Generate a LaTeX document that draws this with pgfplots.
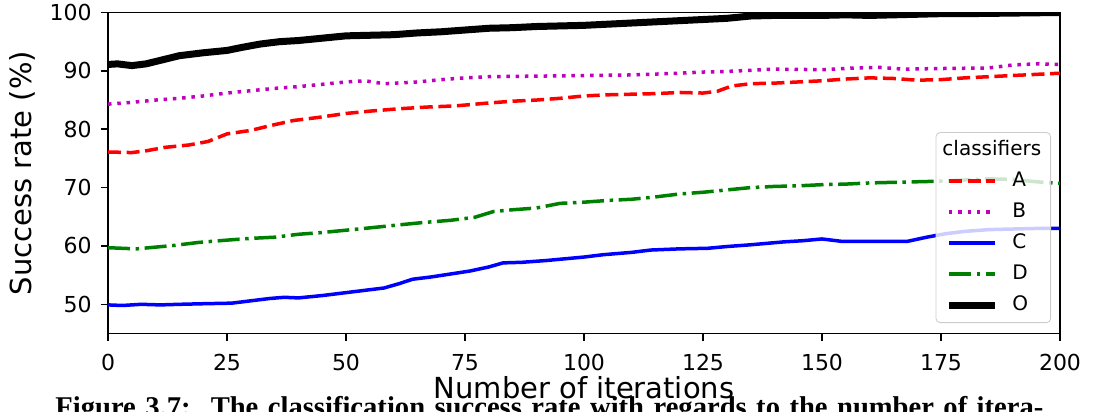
\documentclass[border=0pt]{standalone}
\usepackage{fontspec}
\setmainfont{DejaVu Sans}
\newfontfamily\capfont{Liberation Serif}
\usepackage{pgfplots}
\pgfplotsset{compat=1.18}
\usepackage{pgfplotstable}

\definecolor{mplmag}{rgb}{0.75,0,0.75}
\definecolor{mplgreen}{rgb}{0,0.5,0}

% success rate (%) per iteration
\pgfplotstableread{
it rate
0 76.1
5 76.0
8 76.3
12 76.9
17 77.3
21 77.9
25 79.2
30 79.8
34 80.6
39 81.5
44 82.0
50 82.7
55 83.1
61 83.5
67 83.8
73 84.0
80 84.5
85 84.8
90 85.0
95 85.3
100 85.7
105 85.9
110 86.0
115 86.1
120 86.3
125 86.2
128 86.5
131 87.4
135 87.8
140 87.9
145 88.1
150 88.3
155 88.6
160 88.8
165 88.7
170 88.4
175 88.5
180 88.8
185 89.0
190 89.2
195 89.4
200 89.6
}\clsA
\pgfplotstableread{
it rate
0 84.3
5 84.6
10 85.0
15 85.3
20 85.7
25 86.2
30 86.6
35 87.0
40 87.3
45 87.7
50 88.1
54 88.3
58 87.8
65 88.1
70 88.5
75 88.8
80 89.0
90 89.1
100 89.2
110 89.3
120 89.6
125 89.8
130 89.9
135 90.1
140 90.3
150 90.2
157 90.5
162 90.6
167 90.3
175 90.4
185 90.5
190 91.0
195 91.2
200 91.1
}\clsB
\pgfplotstableread{
it rate
0 49.9
3 49.8
7 50.0
11 49.9
15 50.0
20 50.1
26 50.2
30 50.6
34 51.0
37 51.2
40 51.1
45 51.5
50 52.0
54 52.4
58 52.8
61 53.5
64 54.3
68 54.7
72 55.2
76 55.7
80 56.4
83 57.1
87 57.2
92 57.5
96 57.8
100 58.1
104 58.5
110 58.9
114 59.3
120 59.5
126 59.6
130 59.9
135 60.2
142 60.7
146 60.9
150 61.2
154 60.8
160 60.8
168 60.8
172 61.5
176 62.1
180 62.5
185 62.8
190 62.9
195 63.0
200 63.0
}\clsC
\pgfplotstableread{
it rate
0 59.7
3 59.6
6 59.5
10 59.8
14 60.1
19 60.6
25 61.0
30 61.3
35 61.5
40 62.0
45 62.3
50 62.7
55 63.1
61 63.6
66 64.0
72 64.4
77 64.9
81 65.9
85 66.2
90 66.5
95 67.3
100 67.5
105 67.8
110 68.0
115 68.4
120 68.9
125 69.2
130 69.6
135 70.0
140 70.2
145 70.3
150 70.5
155 70.6
160 70.8
165 70.9
170 71.0
175 71.1
180 71.3
185 71.5
190 71.4
195 71.0
200 70.7
}\clsD
\pgfplotstableread{
it rate
0 91.1
2 91.2
5 90.9
8 91.2
12 92.0
15 92.6
20 93.1
25 93.5
28 94.0
32 94.6
36 95.0
40 95.2
45 95.6
50 96.0
55 96.1
60 96.2
65 96.5
70 96.7
75 97.0
80 97.3
85 97.4
90 97.6
95 97.7
100 97.8
105 98.0
110 98.2
115 98.4
120 98.6
125 98.8
130 99.0
135 99.4
140 99.5
150 99.5
155 99.6
160 99.5
165 99.6
170 99.7
175 99.8
180 99.8
190 99.9
200 100.0
}\clsO

\begin{document}
\begin{tikzpicture}
\useasboundingbox (0,0) rectangle (548.5pt,206pt);
\clip (0,0) rectangle (548.5pt,206pt);
\begin{axis}[
    at={(54pt,39.25pt)}, anchor=south west,
    scale only axis,
    width=476pt, height=160.5pt,
    xmin=0, xmax=200, ymin=45, ymax=100,
    xtick={0,25,...,200},
    ytick={50,60,...,100},
    tick align=outside, major tick length=3.5pt, tick pos=left,
    axis line style={line width=0.8pt},
    every tick/.style={black, line width=0.8pt},
    /pgf/number format/assume math mode=true,
    tick label style={font=\fontsize{11}{13}\selectfont},
    xticklabel style={anchor=north, inner sep=0pt, yshift=-6.75pt},
    yticklabel style={anchor=east, inner sep=0pt, xshift=-4.5pt},
    xlabel={Number of iterations},
    ylabel={Success rate (\%)},
    label style={font=\fontsize{14.5}{16}\selectfont, inner sep=0pt},
    xlabel style={at={(axis description cs:0.5,0)}, anchor=base, yshift=-32.25pt},
    ylabel style={at={([xshift=-38pt]axis description cs:0,0.5)}, anchor=base},
    legend cell align=left,
    legend image code/.code={\draw[#1] (0pt,0pt) -- (23pt,0pt);},
    legend style={at={(axis description cs:1,0)}, anchor=south east,
        xshift=-4.5pt, yshift=5.25pt,
        draw=black!20, rounded corners=2pt, fill=white,
        fill opacity=0.8, draw opacity=1, text opacity=1,
        inner xsep=4.7pt, inner ysep=4pt, row sep=6pt, column sep=7pt,
        font=\fontsize{10}{12}\selectfont,
        nodes={inner sep=0pt, text height=7.5pt, text depth=2pt}},
    ]
  \addlegendimage{empty legend}
  \addlegendentry{\hspace{-35pt}classifiers\hspace{-4.6pt}}
  \addplot[red, line width=1.75pt, dash pattern=on 6.5pt off 2.8pt] table[x=it, y=rate] {\clsA};
  \addlegendentry{A}
  \addplot[mplmag, line width=1.75pt, dash pattern=on 1.75pt off 2.9pt] table[x=it, y=rate] {\clsB};
  \addlegendentry{B}
  \addplot[blue, line width=1.75pt] table[x=it, y=rate] {\clsC};
  \addlegendentry{C}
  \addplot[mplgreen, line width=1.75pt, dash pattern=on 11pt off 2.8pt on 1.75pt off 2.8pt] table[x=it, y=rate] {\clsD};
  \addlegendentry{D}
  \addplot[black, line width=3.5pt] table[x=it, y=rate] {\clsO};
  \addlegendentry{O}
\end{axis}
\node[anchor=base west, inner sep=0pt, font=\capfont\bfseries\fontsize{14.3}{16}\selectfont]
  at (27.5pt,-2.25pt) {\makebox[494pt][s]{Figure 3.7:\hspace{3pt} The classification success rate with regards to the number of itera-}};
\end{tikzpicture}
\end{document}
